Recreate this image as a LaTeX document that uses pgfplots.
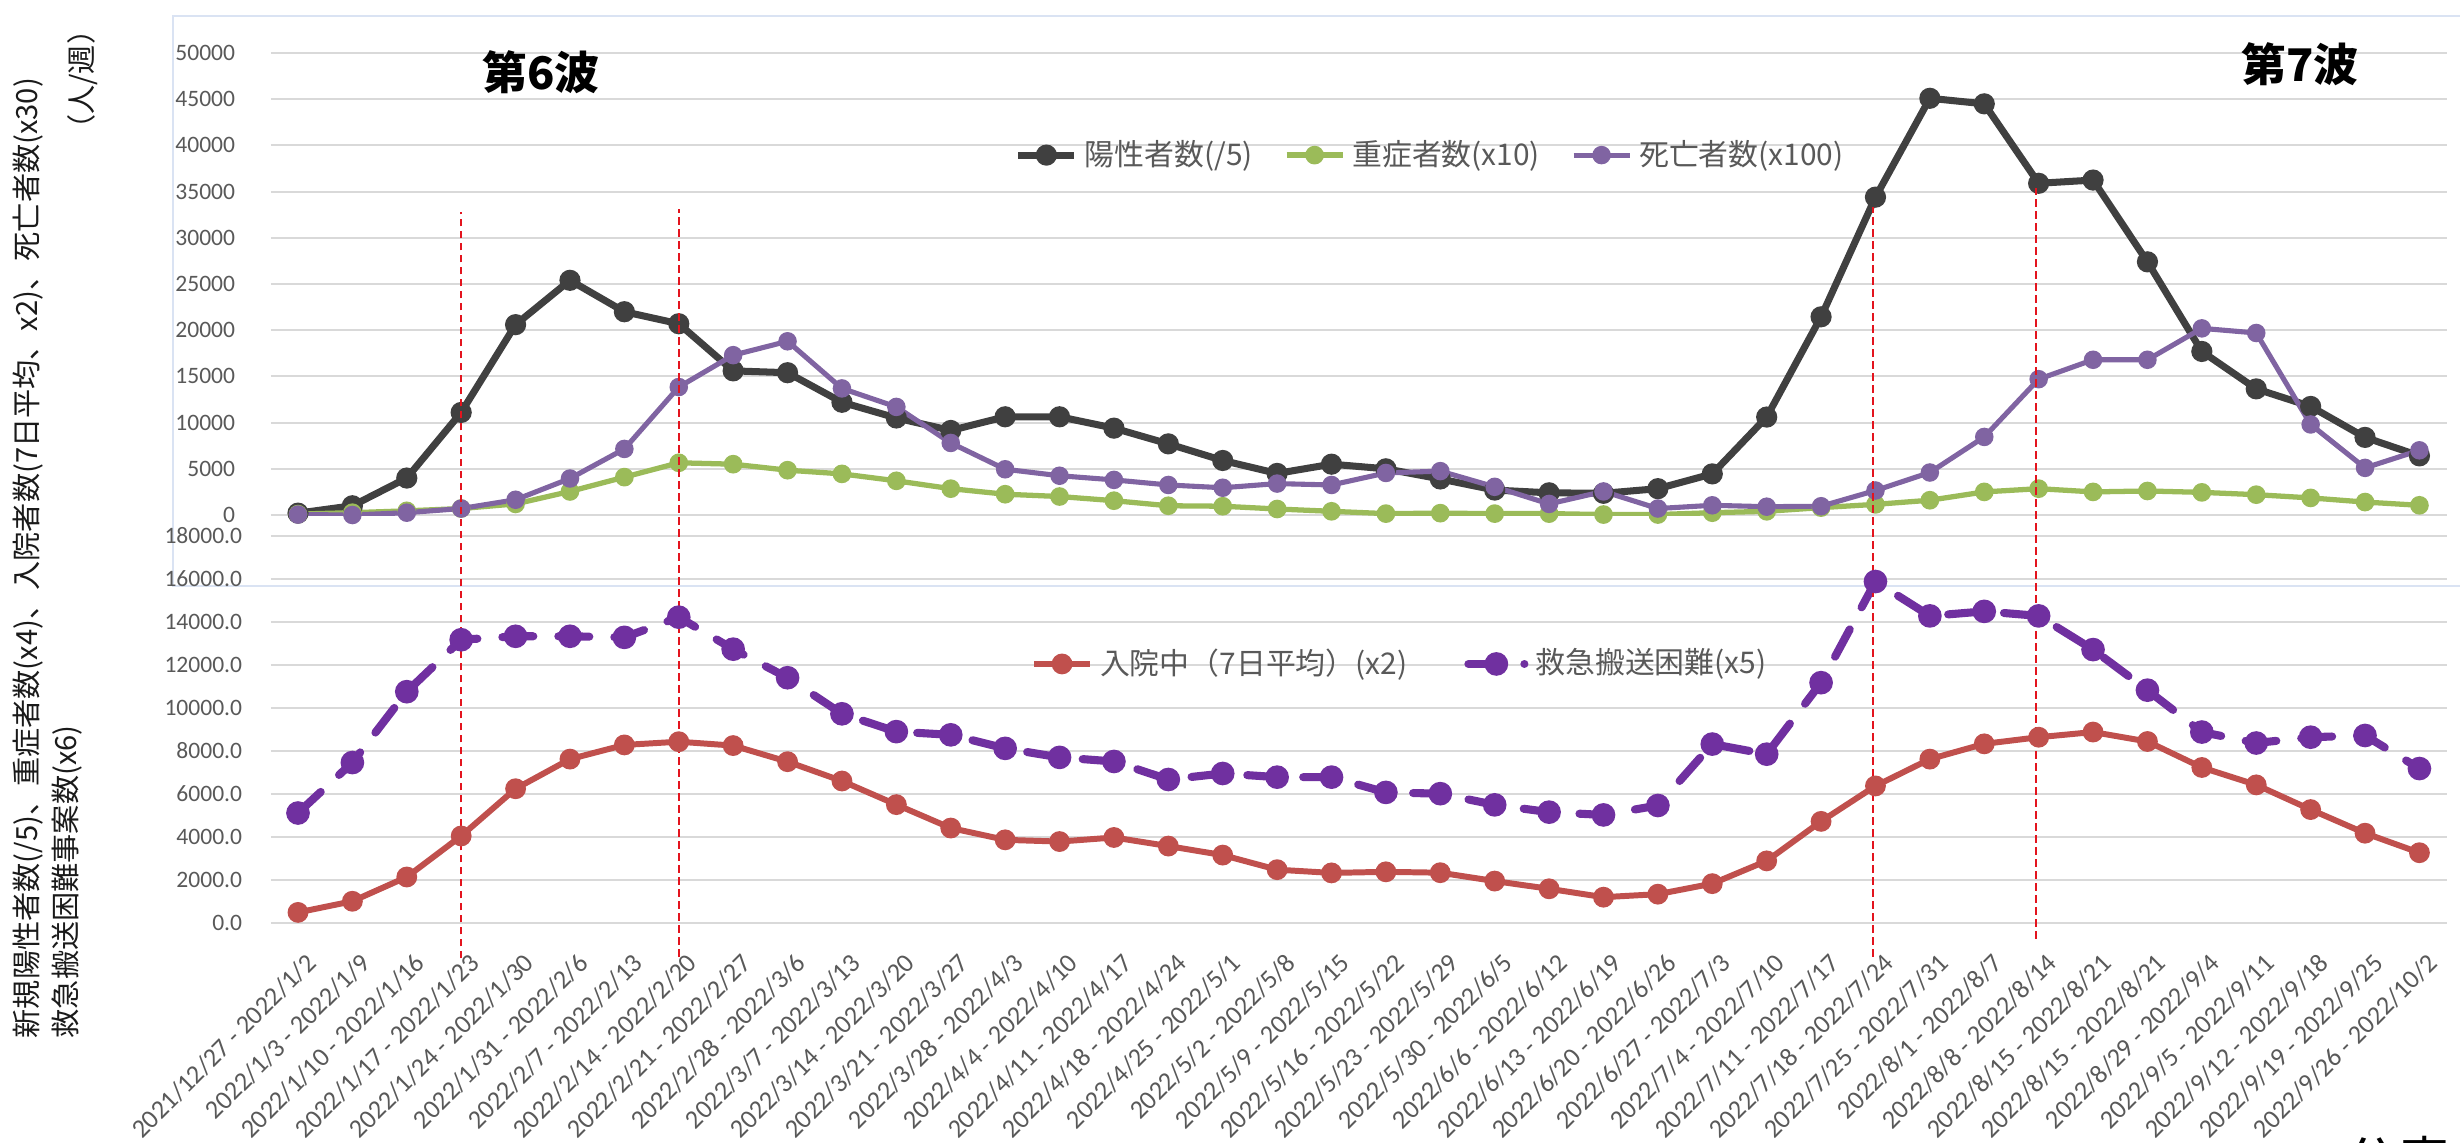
\documentclass[border=0pt]{standalone}
\usepackage{fontspec}
\setmainfont{Carlito}
\newfontfamily\cjk{Noto Sans CJK JP}
\usepackage{pgfplots}
\pgfplotsset{compat=1.18}
\definecolor{cBlack}{HTML}{404040}
\definecolor{cGreen}{HTML}{9BBB59}
\definecolor{cPurple}{HTML}{8064A2}
\definecolor{cRed}{HTML}{C0504D}
\definecolor{cDash}{HTML}{7030A0}
\definecolor{cVline}{HTML}{E3141E}
\definecolor{gridgray}{HTML}{D9D9D9}
\definecolor{tickgray}{HTML}{595959}
\definecolor{framecol}{HTML}{DAE3F3}
\definecolor{titlecol}{HTML}{1A1A1A}

\pgfplotsset{
  myaxis/.style={
    scale only axis, width=217.58mm,
    xmin=-0.5, xmax=39.5,
    scaled ticks=false,
    axis line style={draw=none},
    major tick length=0pt,
    ymajorgrids, grid style={draw=gridgray, line width=0.2mm},
    legend image code/.code={\draw[mark repeat=2,mark phase=2] plot coordinates {(0mm,0mm) (2.8mm,0mm) (5.6mm,0mm)};},
  },
}

\begin{document}
\begin{tikzpicture}
\draw[framecol, line width=0.2mm] (17.3mm,55.6mm) rectangle (250mm,112.55mm);

% ---------- top panel ----------
\begin{axis}[myaxis,
  at={(27.08mm,62.7mm)}, anchor=south west,
  height=46.2mm,
  ymin=0, ymax=50000,
  xtick=\empty,
  ytick={0,5000,10000,15000,20000,25000,30000,35000,40000,45000,50000},
  yticklabels={0,5000,10000,15000,20000,25000,30000,35000,40000,45000,50000},
  yticklabel style={font=\fontsize{6.7}{8}\selectfont, text=tickgray, anchor=east, inner sep=0pt, xshift=-3.5mm},
  legend columns=3,
  legend style={at={(0.534,0.779)}, anchor=center, draw=none, fill=none,
    font=\cjk\fontsize{8.5}{10}\selectfont, text=tickgray, inner sep=0pt,
    /tikz/every even column/.append style={column sep=2.4mm}},
]
\addplot[cBlack, line width=2pt, mark=*, mark size=2pt, mark options={fill=cBlack}] coordinates {
(0,200) (1,1000) (2,4000) (3,11100) (4,20600) (5,25400) (6,22000) (7,20700) (8,15600) (9,15400)
(10,12200) (11,10500) (12,9150) (13,10630) (14,10630) (15,9400) (16,7700) (17,5900) (18,4500) (19,5500)
(20,5000) (21,3900) (22,2700) (23,2400) (24,2350) (25,2850) (26,4450) (27,10600) (28,21450) (29,34400)
(30,45100) (31,44500) (32,35900) (33,36250) (34,27400) (35,17700) (36,13650) (37,11750) (38,8400) (39,6400)};
\addlegendentry{陽性者数(/5)}
\addplot[cGreen, line width=1.5pt, mark=*, mark size=1.9pt, mark options={fill=cGreen}] coordinates {
(0,100) (1,250) (2,450) (3,700) (4,1200) (5,2550) (6,4100) (7,5650) (8,5500) (9,4850)
(10,4450) (11,3700) (12,2850) (13,2250) (14,2000) (15,1550) (16,1000) (17,950) (18,650) (19,400)
(20,150) (21,200) (22,150) (23,150) (24,50) (25,50) (26,250) (27,400) (28,800) (29,1150)
(30,1600) (31,2500) (32,2850) (33,2500) (34,2600) (35,2450) (36,2200) (37,1850) (38,1400) (39,1050)};
\addlegendentry{重症者数(x10)}
\addplot[cPurple, line width=1.45pt, mark=*, mark size=1.9pt, mark options={fill=cPurple}] coordinates {
(0,50) (1,0) (2,250) (3,700) (4,1650) (5,3950) (6,7150) (7,13850) (8,17300) (9,18800)
(10,13700) (11,11700) (12,7800) (13,4950) (14,4250) (15,3800) (16,3250) (17,2950) (18,3400) (19,3250)
(20,4550) (21,4750) (22,3050) (23,1200) (24,2550) (25,700) (26,1050) (27,900) (28,950) (29,2650)
(30,4600) (31,8450) (32,14700) (33,16800) (34,16800) (35,20200) (36,19700) (37,9800) (38,5100) (39,7000)};
\addlegendentry{死亡者数(x100)}
\end{axis}

% ---------- bottom panel ----------
\begin{axis}[myaxis,
  at={(27.08mm,21.95mm)}, anchor=south west,
  height=38.65mm,
  ymin=0, ymax=18000,
  clip=false,
  xtick={0,...,39},
  xticklabels={2021/12/27 - 2022/1/2,2022/1/3 - 2022/1/9,2022/1/10 - 2022/1/16,2022/1/17 - 2022/1/23,2022/1/24 - 2022/1/30,2022/1/31 - 2022/2/6,2022/2/7 - 2022/2/13,2022/2/14 - 2022/2/20,2022/2/21 - 2022/2/27,2022/2/28 - 2022/3/6,2022/3/7 - 2022/3/13,2022/3/14 - 2022/3/20,2022/3/21 - 2022/3/27,2022/3/28 - 2022/4/3,2022/4/4 - 2022/4/10,2022/4/11 - 2022/4/17,2022/4/18 - 2022/4/24,2022/4/25 - 2022/5/1,2022/5/2 - 2022/5/8,2022/5/9 - 2022/5/15,2022/5/16 - 2022/5/22,2022/5/23 - 2022/5/29,2022/5/30 - 2022/6/5,2022/6/6 - 2022/6/12,2022/6/13 - 2022/6/19,2022/6/20 - 2022/6/26,2022/6/27 - 2022/7/3,2022/7/4 - 2022/7/10,2022/7/11 - 2022/7/17,2022/7/18 - 2022/7/24,2022/7/25 - 2022/7/31,2022/8/1 - 2022/8/7,2022/8/8 - 2022/8/14,2022/8/15 - 2022/8/21,2022/8/15 - 2022/8/21,2022/8/29 - 2022/9/4,2022/9/5 - 2022/9/11,2022/9/12 - 2022/9/18,2022/9/19 - 2022/9/25,2022/9/26 - 2022/10/2},
  xticklabel style={font=\fontsize{7.5}{9}\selectfont, text=tickgray, inner sep=0pt, xshift=1.4mm, yshift=-3.55mm, rotate=45, anchor=east},
  ytick={0,2000,4000,6000,8000,10000,12000,14000,16000,18000},
  yticklabels={0.0,2000.0,4000.0,6000.0,8000.0,10000.0,12000.0,14000.0,16000.0,18000.0},
  yticklabel style={font=\fontsize{6.7}{8}\selectfont, text=tickgray, anchor=east, inner sep=0pt, xshift=-2.8mm},
  legend columns=2,
  legend style={at={(0.520,0.669)}, anchor=center, draw=none, fill=none,
    font=\cjk\fontsize{8.5}{10}\selectfont, text=tickgray, inner sep=0pt,
    /tikz/every even column/.append style={column sep=5mm}},
]
\addplot[cRed, line width=1.7pt, mark=*, mark size=2.1pt, mark options={fill=cRed}] coordinates {
(0,470) (1,990) (2,2120) (3,4030) (4,6230) (5,7610) (6,8270) (7,8420) (8,8240) (9,7490)
(10,6590) (11,5490) (12,4400) (13,3850) (14,3770) (15,3960) (16,3560) (17,3140) (18,2460) (19,2310)
(20,2360) (21,2320) (22,1930) (23,1570) (24,1180) (25,1320) (26,1810) (27,2870) (28,4710) (29,6360)
(30,7610) (31,8320) (32,8630) (33,8870) (34,8430) (35,7220) (36,6410) (37,5260) (38,4160) (39,3250)};
\addlegendentry{入院中（7日平均）(x2)}
\addplot[cDash, line width=2.3pt, line cap=round, dash pattern=on 3.1mm off 2.5mm, mark=*, mark size=2.2pt, mark options={fill=cDash, solid}] coordinates {
(0,5100) (1,7450) (2,10750) (3,13170) (4,13330) (5,13330) (6,13280) (7,14220) (8,12730) (9,11400)
(10,9720) (11,8890) (12,8740) (13,8110) (14,7690) (15,7500) (16,6660) (17,6940) (18,6770) (19,6770)
(20,6060) (21,6000) (22,5480) (23,5140) (24,5010) (25,5450) (26,8310) (27,7840) (28,11170) (29,15880)
(30,14280) (31,14490) (32,14280) (33,12710) (34,10820) (35,8870) (36,8360) (37,8630) (38,8710) (39,7170)};
\addlegendentry{救急搬送困難(x5)}
\draw[cVline, line width=0.6pt, dash pattern=on 0.75mm off 0.45mm] (axis cs:3,-1674) -- (axis cs:3,33090);
\draw[cVline, line width=0.6pt, dash pattern=on 0.75mm off 0.45mm] (axis cs:7,-1595) -- (axis cs:7,33230);
\draw[cVline, line width=0.6pt, dash pattern=on 0.75mm off 0.45mm] (axis cs:28.95,-1595) -- (axis cs:28.95,33320);
\draw[cVline, line width=0.6pt, dash pattern=on 0.75mm off 0.45mm] (axis cs:31.95,-767) -- (axis cs:31.95,34207);
\end{axis}

% ---------- texts ----------
\node[font=\cjk\bfseries\fontsize{12.8}{14}\selectfont] at (54.1mm,107mm) {第6波};
\node[font=\cjk\bfseries\fontsize{12.8}{14}\selectfont] at (230mm,107.8mm) {第7波};
\node[rotate=90, anchor=west, inner sep=0pt, text=titlecol, font=\cjk\fontsize{8.3}{10}\selectfont] at (2.8mm,10.3mm) {新規陽性者数(/5)、重症者数(x4)、入院者数(7日平均、x2)、死亡者数(x30)};
\node[rotate=90, anchor=west, inner sep=0pt, text=titlecol, font=\cjk\fontsize{8.3}{10}\selectfont] at (6.7mm,10.3mm) {救急搬送困難事案数(x6)};
\node[rotate=90, anchor=east, inner sep=0pt, text=titlecol, font=\cjk\fontsize{8.3}{10}\selectfont] at (8.3mm,112.7mm) {（人/週）};
\node[anchor=north west, inner sep=0pt, font=\cjk\fontsize{15}{17}\selectfont] at (234.5mm,0.7mm) {公表日};

\pgfresetboundingbox
\path[use as bounding box] (0,0) rectangle (246mm,114.2mm);
\end{tikzpicture}
\end{document}
